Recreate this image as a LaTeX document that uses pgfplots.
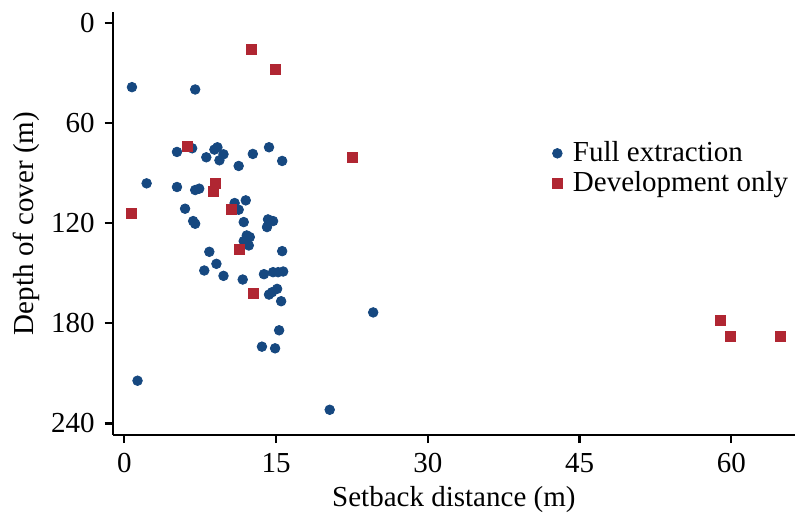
\documentclass[border=0pt]{standalone}
\usepackage{fontspec}
\setmainfont{Liberation Serif}
\usepackage{pgfplots}
\pgfplotsset{compat=1.18}
\definecolor{fullblue}{RGB}{22,72,128}
\definecolor{devred}{RGB}{176,38,50}
\begin{document}
\fontsize{14.5}{17}\selectfont
\begin{tikzpicture}
\begin{axis}[
  name=ax,
  scale only axis, width=341pt, height=211.5pt,
  xmin=-1.15, xmax=66.3, ymin=-6.4, ymax=247,
  y dir=reverse,
  axis x line*=bottom, axis y line*=left,
  axis line style={line width=1.1pt, -},
  tick style={line width=1.1pt, black},
  tick align=outside, major tick length=4pt,
  xtick={0,15,30,45,60}, ytick={0,60,120,180,240},
  /pgf/number format/assume math mode=true,
  tick label style={font=\fontsize{14.5}{17}\selectfont},
  label style={font=\fontsize{14.5}{17}\selectfont},
  xlabel={Setback distance (m)}, ylabel={Depth of cover (m)},
  xlabel shift=-3pt, ylabel shift=-4pt,
  legend style={draw=none, fill=none, at={(axis description cs:0.635,0.63)}, anchor=west,
    font=\fontsize{14.5}{17}\selectfont, row sep=-1pt},
  legend cell align=left,
  legend image code/.code={\draw[#1] plot coordinates {(0.12cm,0cm)}; \path (9pt,0pt);},
]
\addplot[only marks, mark=*, mark size=2.4pt, color=fullblue] coordinates {
(0.75,38.6) (7.0,40) (5.2,77.4) (6.7,75.2) (8.9,76) (9.2,74.6) (8.1,80.6)
(9.8,78.8) (9.4,82.4) (11.3,85.8) (12.7,78.6) (14.3,74.6) (15.6,82.8)
(2.2,96.2) (5.2,98.4) (7.0,100.2) (7.4,99.4) (6.0,111.4) (12.0,106.4)
(10.9,108) (11.3,112) (6.8,118.8) (7.0,120.4) (11.8,119.4) (14.2,117.8)
(14.7,118.8) (14.1,122.4) (12.1,127.4) (12.4,128.4) (12.3,133.4) (11.8,130.8)
(15.6,136.8) (8.4,137.2) (9.1,144.4) (7.9,148.4) (9.8,151.6) (11.7,153.8)
(13.8,150.6) (14.7,149.4) (15.2,149.4) (15.7,149) (15.1,159.4) (14.6,161.4)
(14.3,162.8) (15.5,166.8) (15.3,184.2) (13.6,194) (14.9,195) (1.3,214.4)
(20.3,231.8) (24.6,173.5)
};
\addlegendentry{Full extraction}
\addplot[only marks, mark=square*, mark size=2.5pt, color=devred] coordinates {
(12.6,16) (14.9,27.8) (6.2,73.8) (9.0,96.2) (8.8,100.8) (0.7,114)
(10.6,111.6) (11.4,135.6) (12.8,162) (22.5,80.9) (58.9,178.5)
(59.9,187.9) (64.9,187.9)
};
\addlegendentry{Development only}
\end{axis}
\pgfresetboundingbox
\path ([shift={(-56.35pt,-41pt)}]ax.south west) rectangle ([shift={(1.5pt,6pt)}]ax.north east);
\end{tikzpicture}
\end{document}
